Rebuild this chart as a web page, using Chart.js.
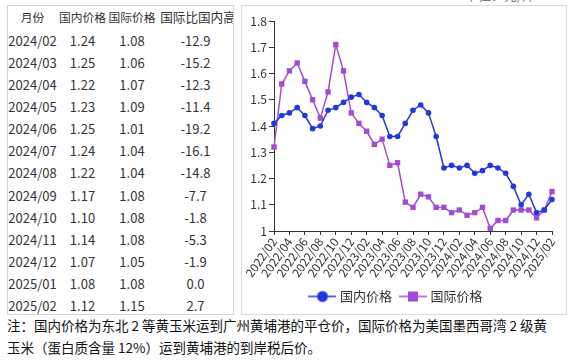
<!DOCTYPE html>
<html><head><meta charset="utf-8">
<script src="https://cdn.jsdelivr.net/npm/chart.js@4"></script>
<style>
html,body{margin:0;padding:0;background:#fff;width:575px;height:360px;overflow:hidden;position:relative;font-family:"Noto Sans CJK SC","Noto Sans",sans-serif;}
#unit{position:absolute;left:465px;top:-15px;font-size:13px;color:#777;white-space:nowrap;}
#tbl{position:absolute;left:7px;top:5px;width:225px;height:308px;border:1px solid #d4d4d4;overflow:hidden;color:#333;font-size:13px;}
.cell{position:absolute;white-space:nowrap;transform:translate(-50%,-50%);line-height:1;}
.hd{font-size:11.8px;}
.hd3{font-size:12.6px;}
#box{position:absolute;left:241px;top:5px;width:324px;height:308px;border:1px solid #d9d9d9;}
#cv{position:absolute;left:0;top:0;}
#note{position:absolute;left:7px;top:314px;font-size:13.5px;line-height:22px;color:#111;white-space:nowrap;}
</style></head>
<body>
<div id="unit">单位：元/斤</div>
<div id="tbl"></div>
<div id="box"><canvas id="cv" width="324" height="308"></canvas></div>
<div id="note">注：国内价格为东北 2 等黄玉米运到广州黄埔港的平仓价，国际价格为美国墨西哥湾 2 级黄<br>玉米（蛋白质含量 12%）运到黄埔港的到岸税后价。</div>
<script>
// ---- chart data ----
const months = ['2022/02','2022/03','2022/04','2022/05','2022/06','2022/07','2022/08','2022/09','2022/10','2022/11','2022/12',
'2023/01','2023/02','2023/03','2023/04','2023/05','2023/06','2023/07','2023/08','2023/09','2023/10','2023/11','2023/12',
'2024/01','2024/02','2024/03','2024/04','2024/05','2024/06','2024/07','2024/08','2024/09','2024/10','2024/11','2024/12',
'2025/01','2025/02'];
const domestic = [1.41,1.44,1.45,1.47,1.44,1.39,1.40,1.46,1.47,1.49,1.51,1.52,1.49,1.47,1.44,1.36,1.36,1.41,1.46,1.48,1.45,1.36,1.24,1.25,
1.24,1.25,1.22,1.23,1.25,1.24,1.22,1.17,1.10,1.14,1.07,1.08,1.12];
const international = [1.32,1.56,1.61,1.64,1.57,1.50,1.43,1.53,1.71,1.61,1.45,1.41,1.38,1.33,1.35,1.25,1.26,1.11,1.09,1.14,1.13,1.09,1.09,1.07,
1.08,1.06,1.07,1.09,1.01,1.04,1.04,1.08,1.08,1.08,1.05,1.08,1.15];
const seriesNames = ['国内价格','国际价格'];

// ---- table data ----
const tableHeader = ['月份','国内价格','国际价格','国际比国内高'];
const tableMonths = ['2024/02','2024/03','2024/04','2024/05','2024/06','2024/07','2024/08','2024/09','2024/10','2024/11','2024/12','2025/01','2025/02'];
const tableDomestic = ['1.24','1.25','1.22','1.23','1.25','1.24','1.22','1.17','1.10','1.14','1.07','1.08','1.12'];
const tableIntl = ['1.08','1.06','1.07','1.09','1.01','1.04','1.04','1.08','1.08','1.08','1.05','1.08','1.15'];
const tableDiff = ['-12.9','-15.2','-12.3','-11.4','-19.2','-16.1','-14.8','-7.7','-1.8','-5.3','-1.9','0.0','2.7'];

// build table
const tbl = document.getElementById('tbl');
const colX = [24.5, 74.5, 124, 187.5];
function addCell(text, x, y, cls){
  const d = document.createElement('div'); d.className = 'cell' + (cls ? ' ' + cls : ''); d.textContent = text;
  d.style.left = x + 'px'; d.style.top = y + 'px'; tbl.appendChild(d);
}
tableHeader.forEach((h,i)=>addCell(h, i === 3 ? 190 : colX[i], 11, i === 3 ? 'hd3' : 'hd'));
tableMonths.forEach((m,r)=>{
  const y = 34 + r*22.08;
  addCell(m, colX[0], y); addCell(tableDomestic[r], colX[1], y);
  addCell(tableIntl[r], colX[2], y); addCell(tableDiff[r], colX[3], y);
});

// chart
const blueC = '#2338dc', purpC = '#a24bd6';
function legendImg(color, shape){
  const c = document.createElement('canvas'); c.width = 28; c.height = 14;
  const g = c.getContext('2d');
  g.strokeStyle = color; g.lineWidth = 1.5;
  g.beginPath(); g.moveTo(0,7); g.lineTo(28,7); g.stroke();
  g.fillStyle = color;
  if (shape === 'circle'){ g.beginPath(); g.arc(14,7,5.5,0,Math.PI*2); g.fill(); }
  else { g.fillRect(9,2,10,10); }
  return c;
}
const legImgs = [legendImg(blueC,'circle'), legendImg(purpC,'rect')];
const FF = '"Noto Sans CJK SC","Noto Sans",sans-serif';
new Chart(document.getElementById('cv'), {
  type: 'line',
  data: { labels: months, datasets: [
    { label: seriesNames[0], data: domestic, borderColor: blueC, backgroundColor: blueC, borderWidth: 1.5,
      pointStyle: 'circle', pointRadius: 2.8, pointBorderWidth: 0, tension: 0 },
    { label: seriesNames[1], data: international, borderColor: purpC, backgroundColor: purpC, borderWidth: 1.5,
      pointStyle: 'rect', pointRadius: 3.8, pointBorderWidth: 0, tension: 0 }
  ]},
  options: {
    responsive: false, animation: false, devicePixelRatio: 1,
    layout: { padding: { left: 0, right: 14, top: 15, bottom: 1 } },
    plugins: {
      tooltip: { enabled: false },
      legend: { position: 'bottom', labels: {
        usePointStyle: true, pointStyleWidth: 22, padding: 10, color: '#333',
        font: { size: 13, family: FF },
        generateLabels: ch => ch.data.datasets.map((ds,i)=>({ text: ds.label, pointStyle: legImgs[i],
          fillStyle: ds.borderColor, strokeStyle: ds.borderColor, lineWidth: 0, hidden: false, datasetIndex: i, fontColor: '#333' }))
      }}
    },
    scales: {
      x: {
        grid: { drawOnChartArea: false, tickLength: 4, color: '#333' },
        border: { color: '#333', width: 1 },
        ticks: { autoSkip: false, minRotation: 55, maxRotation: 55, padding: 0, color: '#333', font: { size: 12, family: FF } },
        afterBuildTicks: ax => { ax.ticks = ax.ticks.filter((t,i)=> i % 2 === 0); },
        afterFit: ax => { ax.height = 49; ax.paddingLeft = 0; ax.paddingRight = 0; }
      },
      y: {
        min: 1, max: 1.8,
        ticks: { stepSize: 0.1, padding: 2, color: '#333', font: { size: 12, family: FF },
          callback: v => String(Math.round(v * 10) / 10) },
        grid: { drawOnChartArea: false, tickLength: 5, color: '#333' },
        border: { color: '#333', width: 1 },
        afterFit: ax => { ax.width = 32; ax.paddingTop = 0; ax.paddingBottom = 0; }
      }
    }
  }
});
</script>
</body></html>
